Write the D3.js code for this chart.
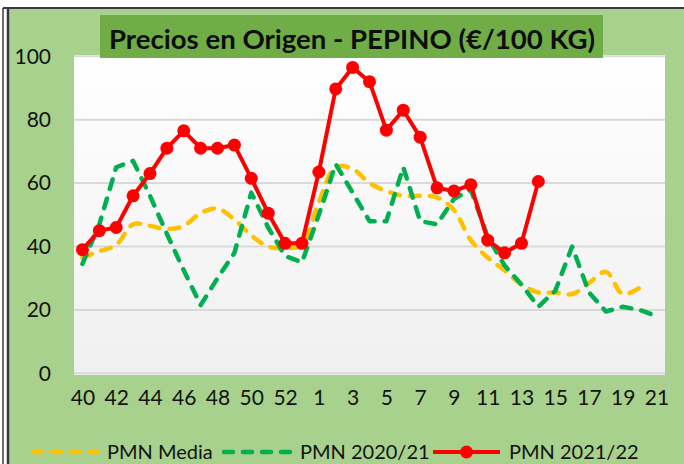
<!DOCTYPE html>
<html>
<head>
<meta charset="utf-8">
<script src="https://cdn.jsdelivr.net/npm/d3@7"></script>
<style>
  body { margin: 0; background: #ffffff; }
  svg { display: block; }
</style>
</head>
<body>
<script>
// Data
var weeks = [40, 41, 42, 43, 44, 45, 46, 47, 48, 49, 50, 51, 52, 53,
             1, 2, 3, 4, 5, 6, 7, 8, 9, 10, 11, 12, 13, 14, 15, 16, 17, 18, 19, 20, 21];
var tickLabels = [40, 42, 44, 46, 48, 50, 52, 1, 3, 5, 7, 9, 11, 13, 15, 17, 19, 21];
var yTicks = [0, 20, 40, 60, 80, 100];

var pmnMedia = [36.5, 38.5, 40.5, 47, 46.5, 45.5, 46.5, 50.5, 52, 48.5, 43.5, 40, 39.5, 40.5,
                54, 65, 64.5, 60, 57.5, 56, 56, 55.5, 51.5, 42, 36.5, 32.5, 28, 25.5, 25.5, 25, 28.5, 32, 25, 27, null];
var pmn2021 = [34.5, 47, 65, 67, 56, 44, 32.5, 21.5, 30, 38, 57, 46, 37, 35,
               50, 66, 57, 48, 48, 65, 48, 47, 55, 58, 43, 34, 28, 21, 26, 40, 25.5, 19.5, 21, 20, 18];
var pmn2122 = [39, 45, 46, 56, 63, 71, 76.5, 71, 71, 72, 61.5, 50.5, 41, 41,
               63.5, 89.7, 96.5, 92, 76.7, 83, 74.5, 58.5, 57.5, 59.5, 42, 38, 41, 60.5,
               null, null, null, null, null, null, null];

var seriesNames = ["PMN Media", "PMN 2020/21", "PMN 2021/22"];
var title = "Precios en Origen - PEPINO (€/100 KG)";

var svgWidth = 684, svgHeight = 464;
var plot = { left: 74, right: 665, top: 55, bottom: 375 };

var svg = d3.select("body").append("svg")
  .attr("width", svgWidth)
  .attr("height", svgHeight)
  .style("font-family", "Lato, 'Open Sans', sans-serif");

// frame and background
svg.append("rect")
  .attr("x", 9).attr("y", 9)
  .attr("width", svgWidth - 9).attr("height", svgHeight - 9)
  .attr("fill", "#a9d18e");
svg.append("line").attr("x1", 3).attr("x2", svgWidth).attr("y1", 8).attr("y2", 8)
  .attr("stroke", "#3a3a3a").attr("stroke-width", 2);
svg.append("line").attr("x1", 3).attr("x2", 3).attr("y1", 8).attr("y2", svgHeight)
  .attr("stroke", "#3a3a3a").attr("stroke-width", 1.5);
svg.append("line").attr("x1", 8).attr("x2", 8).attr("y1", 8).attr("y2", svgHeight)
  .attr("stroke", "#3a3a3a").attr("stroke-width", 2.5);

// plot area gradient
var defs = svg.append("defs");
var grad = defs.append("linearGradient")
  .attr("id", "plotGrad").attr("x1", 0).attr("x2", 0).attr("y1", 0).attr("y2", 1);
grad.append("stop").attr("offset", "0%").attr("stop-color", "#ffffff");
grad.append("stop").attr("offset", "100%").attr("stop-color", "#f0f0f0");

svg.append("rect")
  .attr("x", plot.left).attr("y", plot.top)
  .attr("width", plot.right - plot.left).attr("height", plot.bottom - plot.top)
  .attr("fill", "url(#plotGrad)");

var x = d3.scalePoint()
  .domain(weeks)
  .range([plot.left, plot.right])
  .padding(0.5);

var y = d3.scaleLinear()
  .domain([0, 100])
  .range([373.3, 56.3]);

// gridlines
svg.append("g")
  .selectAll("line")
  .data(yTicks)
  .enter()
  .append("line")
  .attr("x1", plot.left).attr("x2", plot.right)
  .attr("y1", function(d) { return y(d); })
  .attr("y2", function(d) { return y(d); })
  .attr("stroke", "#d9d9d9")
  .attr("stroke-width", 2);

// y axis labels
var yAxis = d3.axisLeft(y).tickValues(yTicks).tickSize(0).tickPadding(0);
var gy = svg.append("g")
  .attr("transform", "translate(51,0)")
  .call(yAxis);
gy.select(".domain").remove();
gy.selectAll("text")
  .attr("font-size", 21)
  .attr("font-family", "Lato, 'Open Sans', sans-serif")
  .attr("fill", "#111");

// x axis labels
var xAxis = d3.axisBottom(x).tickValues(tickLabels).tickSize(0).tickPadding(0);
var gx = svg.append("g")
  .attr("transform", "translate(0,390)")
  .call(xAxis);
gx.select(".domain").remove();
gx.selectAll("text")
  .attr("font-size", 21)
  .attr("font-family", "Lato, 'Open Sans', sans-serif")
  .attr("fill", "#111");

var lineStraight = d3.line()
  .defined(function(d) { return d[1] != null; })
  .x(function(d) { return x(d[0]); })
  .y(function(d) { return y(d[1]); });

var lineSmooth = d3.line()
  .defined(function(d) { return d[1] != null; })
  .curve(d3.curveCatmullRom)
  .x(function(d) { return x(d[0]); })
  .y(function(d) { return y(d[1]); });

function pairs(values) {
  return weeks.map(function(w, i) { return [w, values[i]]; });
}

var mediaPts = pairs(pmnMedia);
var p2021Pts = pairs(pmn2021);
var p2122Pts = pairs(pmn2122);

svg.append("path")
  .datum(mediaPts)
  .attr("fill", "none")
  .attr("stroke", "#ffc000")
  .attr("stroke-width", 4.5)
  .attr("stroke-linecap", "round")
  .attr("stroke-dasharray", "10 10")
  .attr("d", lineSmooth);

svg.append("path")
  .datum(p2021Pts)
  .attr("fill", "none")
  .attr("stroke", "#00b050")
  .attr("stroke-width", 4.5)
  .attr("stroke-linecap", "round")
  .attr("stroke-linejoin", "round")
  .attr("stroke-dasharray", "10 10")
  .attr("d", lineStraight);

svg.append("path")
  .datum(p2122Pts)
  .attr("fill", "none")
  .attr("stroke", "#ff0000")
  .attr("stroke-width", 4)
  .attr("stroke-linejoin", "round")
  .attr("d", lineStraight);

svg.append("g")
  .selectAll("circle")
  .data(p2122Pts.filter(function(d) { return d[1] != null; }))
  .enter()
  .append("circle")
  .attr("cx", function(d) { return x(d[0]); })
  .attr("cy", function(d) { return y(d[1]); })
  .attr("r", 6.5)
  .attr("fill", "#ff0000");

// title
svg.append("rect")
  .attr("x", 100).attr("y", 15)
  .attr("width", 503).attr("height", 43)
  .attr("fill", "#70ad47");
svg.append("text")
  .attr("x", 109).attr("y", 48.5)
  .attr("font-size", 27)
  .attr("font-weight", "bold")
  .attr("fill", "#0d0d0d")
  .attr("textLength", 486)
  .attr("lengthAdjust", "spacingAndGlyphs")
  .text(title);

// legend
var legendItems = [
  { name: seriesNames[0], color: "#ffc000", dash: true, x0: 33, x1: 98, tx: 107 },
  { name: seriesNames[1], color: "#00b050", dash: true, x0: 224, x1: 292, tx: 300 },
  { name: seriesNames[2], color: "#ff0000", dash: false, x0: 433, x1: 500, tx: 509 }
];
var ly = 452;
var legend = svg.append("g");
legendItems.forEach(function(it) {
  legend.append("line")
    .attr("x1", it.x0).attr("x2", it.x1)
    .attr("y1", ly).attr("y2", ly)
    .attr("stroke", it.color)
    .attr("stroke-width", it.dash ? 4.5 : 4)
    .attr("stroke-linecap", it.dash ? "round" : "butt")
    .attr("stroke-dasharray", it.dash ? "9 10" : null);
  if (!it.dash) {
    legend.append("circle")
      .attr("cx", (it.x0 + it.x1) / 2).attr("cy", ly).attr("r", 6.5)
      .attr("fill", it.color);
  }
  legend.append("text")
    .attr("x", it.tx).attr("y", ly + 7)
    .attr("font-size", 20)
    .attr("fill", "#111")
    .text(it.name);
});
</script>
</body>
</html>
